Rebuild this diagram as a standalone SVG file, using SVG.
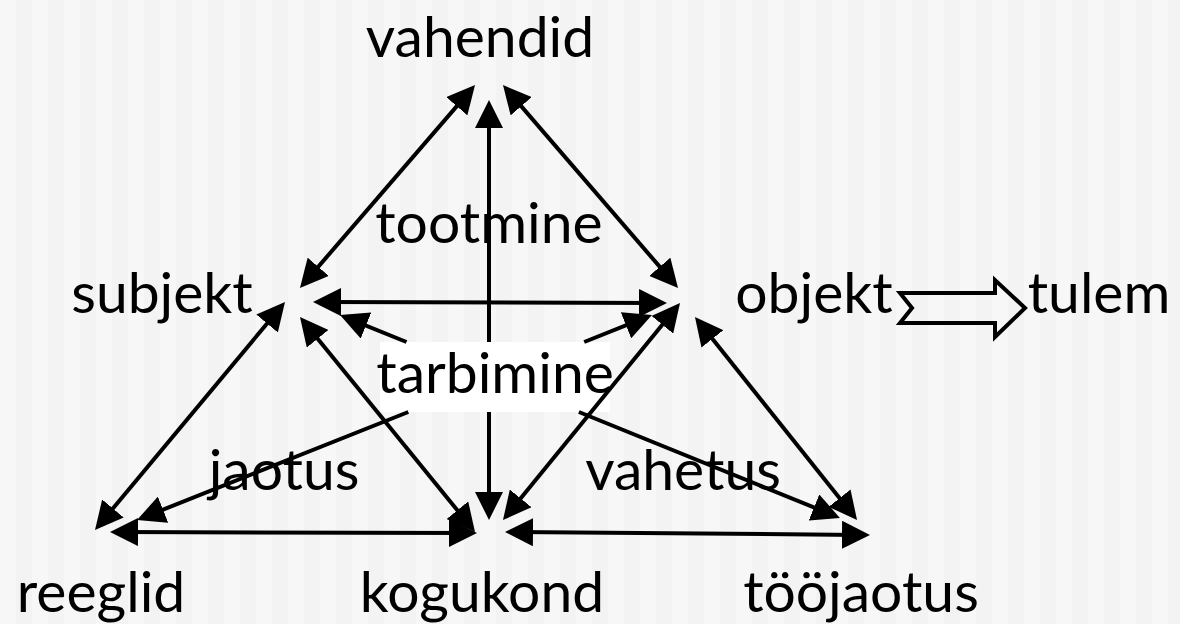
<svg xmlns="http://www.w3.org/2000/svg" width="1180" height="624" viewBox="0 0 1180 624">
  <defs>
    <pattern id="stripes" x="0" y="0" width="32" height="624" patternUnits="userSpaceOnUse">
      <rect x="0" y="0" width="16" height="624" fill="#f7f7f7"/>
      <rect x="16" y="0" width="16" height="624" fill="#f3f3f3"/>
    </pattern>
    <marker id="ah" viewBox="0 0 28 28" markerUnits="userSpaceOnUse" markerWidth="28" markerHeight="28" refX="18" refY="14" orient="auto-start-reverse">
      <path d="M0,0 L28,14 L0,28 Z" fill="#000"/>
    </marker>
    <style>
      .lbl { font-family: Lato, "Open Sans", "Liberation Sans", sans-serif; font-size: 57px; fill: #000; text-anchor: middle; }
      .con { fill: none; stroke: #000; stroke-width: 4; marker-start: url(#ah); marker-end: url(#ah); }
    </style>
  </defs>
  <rect x="0" y="0" width="1180" height="624" fill="url(#stripes)"/>

  <g id="vahendid"><text class="lbl" x="480" y="57">vahendid</text></g>
  <g id="subjekt"><text class="lbl" x="162" y="313">subjekt</text></g>
  <g id="objekt"><text class="lbl" x="814" y="313">objekt</text></g>
  <g id="tulem"><text class="lbl" x="1099" y="313">tulem</text></g>
  <g id="reeglid"><text class="lbl" x="101" y="612">reeglid</text></g>
  <g id="kogukond"><text class="lbl" x="482" y="612">kogukond</text></g>
  <g id="toojaotus"><text class="lbl" x="861" y="612">tööjaotus</text></g>
  <g id="tootmine"><text class="lbl" x="489" y="243">tootmine</text></g>
  <g id="jaotus"><text class="lbl" x="284" y="490">jaotus</text></g>
  <g id="vahetus"><text class="lbl" x="683" y="490">vahetus</text></g>
  <g id="tarbimine">
    <rect x="380" y="342" width="230" height="70" fill="#fff"/>
    <text class="lbl" x="495" y="393">tarbimine</text>
  </g>
  <g id="result-arrow">
    <path d="M900,293 L995,293 L995,280 L1025,308 L995,337 L995,323 L900,323 L912,308 Z" fill="none" stroke="#000" stroke-width="4" stroke-linejoin="miter"/>
  </g>

  <g id="connectors">
    <path class="con" d="M468.5,92.6 L306.5,280.4"/>
    <path class="con" d="M509.5,92.6 L671.5,280.4"/>
    <path class="con" d="M489,110 V342 M489,412 V510"/>
    <path class="con" d="M323,302 L657,303"/>
    <path class="con" d="M349.3,318.8 L406.5,342 M578.9,412 L830.7,514.2"/>
    <path class="con" d="M642.7,318.7 L584.2,342 M408.3,412 L146.3,516.3"/>
    <path class="con" d="M278.6,309.7 L101.4,522.3"/>
    <path class="con" d="M306.3,324.8 L468.7,524.2"/>
    <path class="con" d="M673.7,310.8 L509.3,512.3"/>
    <path class="con" d="M701.2,324.8 L850.8,512.2"/>
    <path class="con" d="M120,532 L467,533"/>
    <path class="con" d="M515,532.1 L860,534.9"/>
  </g>
</svg>
